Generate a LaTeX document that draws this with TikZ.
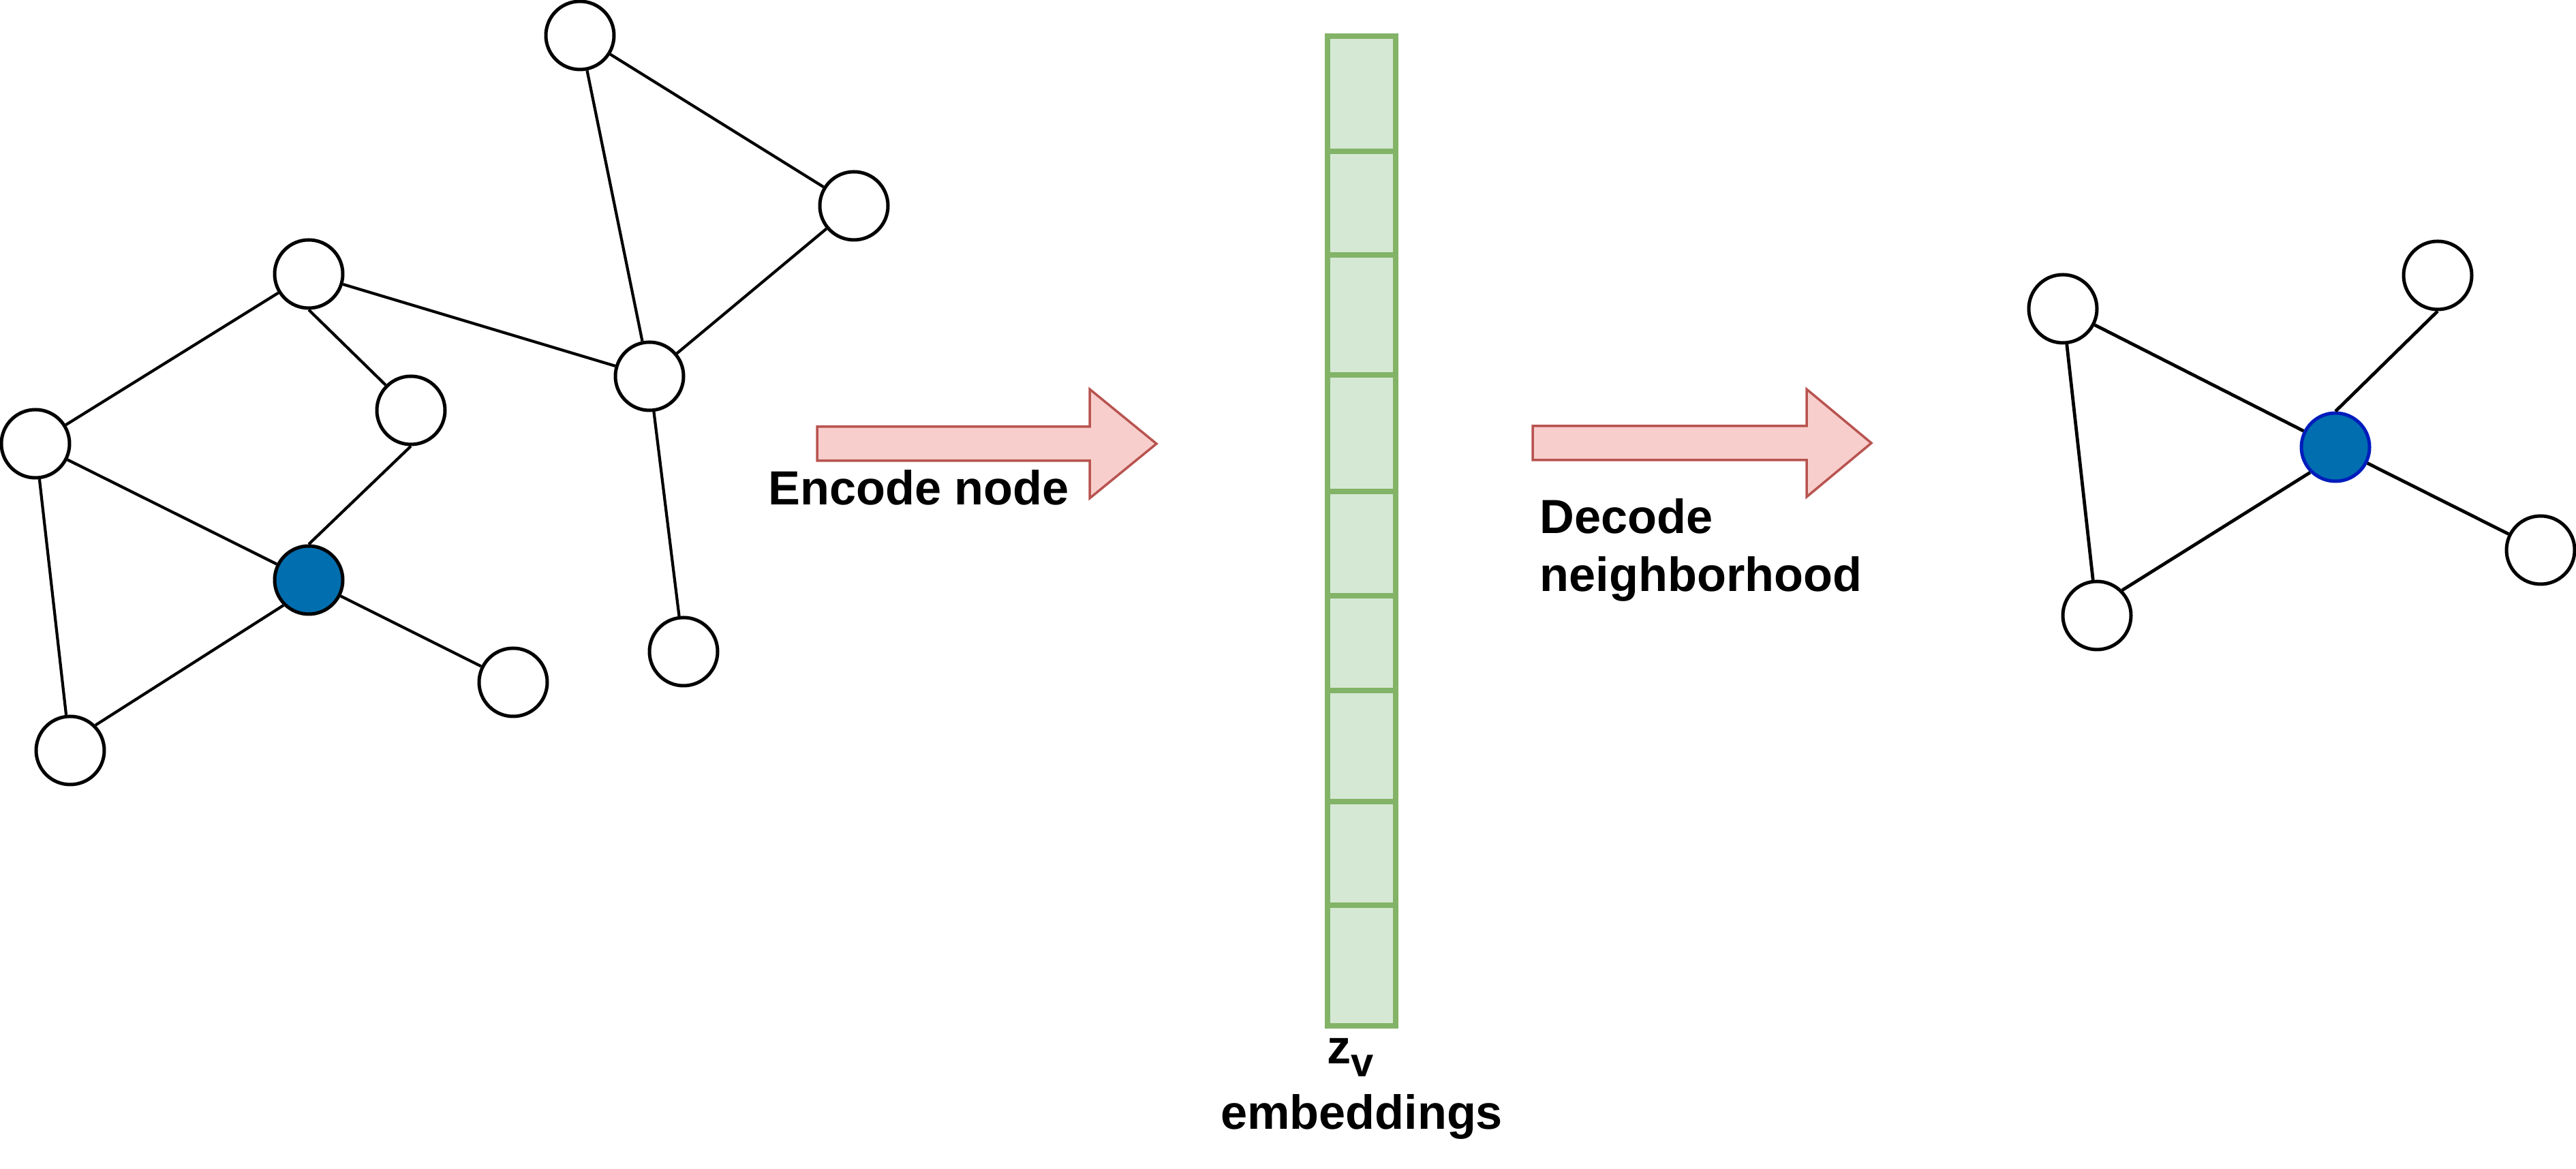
\documentclass[tikz,border=0pt]{standalone}
\usepackage{fontspec}
\setmainfont{Liberation Sans}
\definecolor{nodeblue}{HTML}{006EAF}
\definecolor{nodebluedark}{HTML}{001DBC}
\definecolor{vecfill}{HTML}{D5E8D4}
\definecolor{vecline}{HTML}{82B366}
\definecolor{arrowfill}{HTML}{F8CECC}
\definecolor{arrowline}{HTML}{B85450}
\begin{document}
\begin{tikzpicture}
  \tikzstyle{vertex} = [circle, draw, fill=white, minimum size = 10mm, inner sep = 0, line width = 0.5mm]
  \tikzstyle{centre} = [vertex, fill=nodeblue]
  \tikzstyle{edge} = [-, line width = 0.42mm]
  \tikzstyle{edge_thick} = [-, line width = 0.48mm]
  \tikzstyle{vector} = [rectangle, draw=vecline, fill=vecfill, minimum height = 145.2mm, minimum width = 10mm, inner sep = 0, line width = 0.85mm]
  \tikzstyle{divider} = [-, draw=vecline, line width = 0.75mm]
  \tikzstyle{bigarrow} = [fill=arrowfill, draw=arrowline, line width = 0.35mm, line join = miter]
  \tikzstyle{txt} = [inner sep = 0, font = \bfseries\fontsize{20}{24.2}\selectfont]

  \useasboundingbox (0,0) rectangle (37.8,17.15);

  % input graph
  \node [vertex] at (8.51, 16.63) (g_top) {};
  \node [vertex] at (12.53, 14.13) (g_right) {};
  \node [vertex] at (4.53, 13.13) (g_upper) {};
  \node [vertex] at (9.53, 11.63) (g_hub) {};
  \node [vertex] at (6.03, 11.13) (g_mid) {};
  \node [vertex] at (0.52, 10.64) (g_left) {};
  \node [centre] at (4.53, 8.64) (g_target) {};
  \node [vertex] at (7.53, 7.14) (g_low) {};
  \node [vertex] at (10.03, 7.59) (g_leaf) {};
  \node [vertex] at (1.03, 6.14) (g_bottom) {};

  \draw[edge] (g_top) to (g_right);
  \draw[edge] (g_top) to (g_hub);
  \draw[edge] (g_right) to (g_hub);
  \draw[edge] (g_upper) to (g_hub);
  \draw[edge] (g_upper) to (g_left);
  \draw[edge] (g_upper.south) to (g_mid.north west);
  \draw[edge] (g_mid.south) to (g_target.north);
  \draw[edge] (g_left) to (g_target);
  \draw[edge] (g_left) to (g_bottom);
  \draw[edge] (g_target.south west) to (g_bottom.north east);
  \draw[edge] (g_target) to (g_low);
  \draw[edge] (g_hub) to (g_leaf);

  % encoder arrow
  \draw[bigarrow] (11.99, 10.89) -- (15.99, 10.89) -- (15.99, 11.44) -- (16.97, 10.64)
    -- (15.99, 9.84) -- (15.99, 10.39) -- (11.99, 10.39) -- cycle;
  \node [txt, anchor=base] at (13.48, 9.74) (encode_text) {Encode node};

  % embedding vector
  \node [vector] at (19.98, 9.36) (vec) {};
  \foreach \y in {14.93, 13.41, 11.65, 9.94, 8.41, 7.02, 5.39, 3.87}
    \draw[divider] (vec.west |- 0,\y) to (vec.east |- 0,\y);
  \node [txt, anchor=base west] at (19.47, 1.54) (zv_text) {z\raisebox{-1.9mm}{\fontsize{17}{17}\selectfont v}};
  \node [txt, anchor=base] at (19.98, 0.58) (emb_text) {embeddings};

  % decoder arrow
  \draw[bigarrow] (22.49, 10.90) -- (26.51, 10.90) -- (26.51, 11.44) -- (27.46, 10.65)
    -- (26.51, 9.86) -- (26.51, 10.40) -- (22.49, 10.40) -- cycle;
  \node [txt, anchor=north west, align=left] at (22.59, 9.84) (decode_text) {Decode\\neighborhood};

  % decoded neighbourhood
  \node [vertex] at (30.27, 12.62) (d_upper) {};
  \node [vertex] at (35.77, 13.11) (d_top) {};
  \node [centre, draw=nodebluedark] at (34.27, 10.59) (d_target) {};
  \node [vertex] at (37.28, 9.08) (d_right) {};
  \node [vertex] at (30.77, 8.12) (d_lower) {};

  \draw[edge_thick] (d_upper) to (d_target);
  \draw[edge_thick] (d_upper) to (d_lower);
  \draw[edge_thick] (d_lower.north east) to (d_target.south west);
  \draw[edge_thick] (d_target.north) to (d_top.south);
  \draw[edge_thick] (d_target) to (d_right);
\end{tikzpicture}
\end{document}
